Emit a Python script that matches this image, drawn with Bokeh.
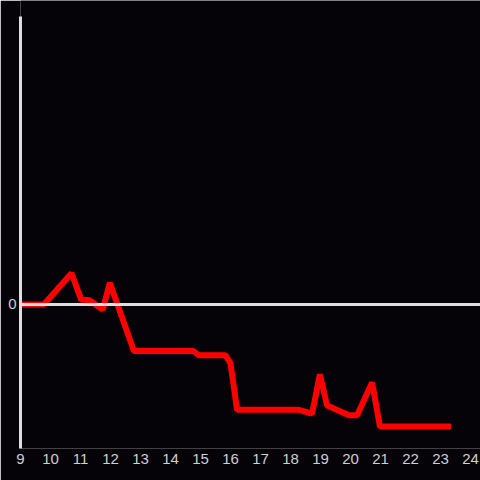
from bokeh.plotting import figure
from bokeh.models import Span, FixedTicker, Range1d
from bokeh.embed import file_html
from bokeh.resources import INLINE

# data (hours, value)
hours = [9, 9.78, 10.7, 11.02, 11.3, 11.74, 11.98, 12.78, 14.76, 14.94, 15.83, 16.0,
         16.22, 18.28, 18.72, 18.98, 19.22, 19.95, 20.22, 20.72, 20.98, 23.35]
values = [0, 0, 1.04, 0.17, 0.14, -0.17, 0.72, -1.55, -1.55, -1.69, -1.69, -1.96,
          -3.51, -3.51, -3.64, -2.33, -3.37, -3.69, -3.69, -2.6, -4.07, -4.07]
x_ticks = list(range(9, 25))
y_ticks = [0]

BG = "#050307"
AX = "#dedede"

p = figure(width=480, height=480, output_backend="svg", toolbar_location=None,
           title_location=None,
           x_range=Range1d(9, 24.333), y_range=Range1d(-4.8, 10.1333),
           background_fill_color=BG, border_fill_color=BG, outline_line_color=None,
           min_border_left=20, min_border_right=0, min_border_top=0, min_border_bottom=32)

p.grid.visible = False

p.xaxis.ticker = FixedTicker(ticks=x_ticks)
p.xaxis.axis_line_color = None
p.xaxis.major_tick_line_color = None
p.xaxis.minor_tick_line_color = None
p.xaxis.major_tick_out = 0
p.xaxis.major_tick_in = 0
p.xaxis.major_label_standoff = 5
p.xaxis.major_label_text_color = "#cfcfcf"
p.xaxis.major_label_text_font = "Liberation Sans"
p.xaxis.major_label_text_font_size = "15px"

p.yaxis.ticker = FixedTicker(ticks=y_ticks)
p.yaxis.bounds = (-4.8, 9.6)
p.yaxis.axis_line_color = AX
p.yaxis.axis_line_width = 3
p.yaxis.major_tick_line_color = None
p.yaxis.minor_tick_line_color = None
p.yaxis.major_tick_out = 0
p.yaxis.major_tick_in = 0
p.yaxis.major_label_standoff = 4
p.yaxis.major_label_text_color = "#cfcfcf"
p.yaxis.major_label_text_font = "Liberation Sans"
p.yaxis.major_label_text_font_size = "15px"

p.add_layout(Span(location=0, dimension="width", line_color=AX, line_width=3))

p.line(hours, values, line_color="#ff0000", line_width=6)

open("out.html", "w").write(file_html(p, INLINE))
